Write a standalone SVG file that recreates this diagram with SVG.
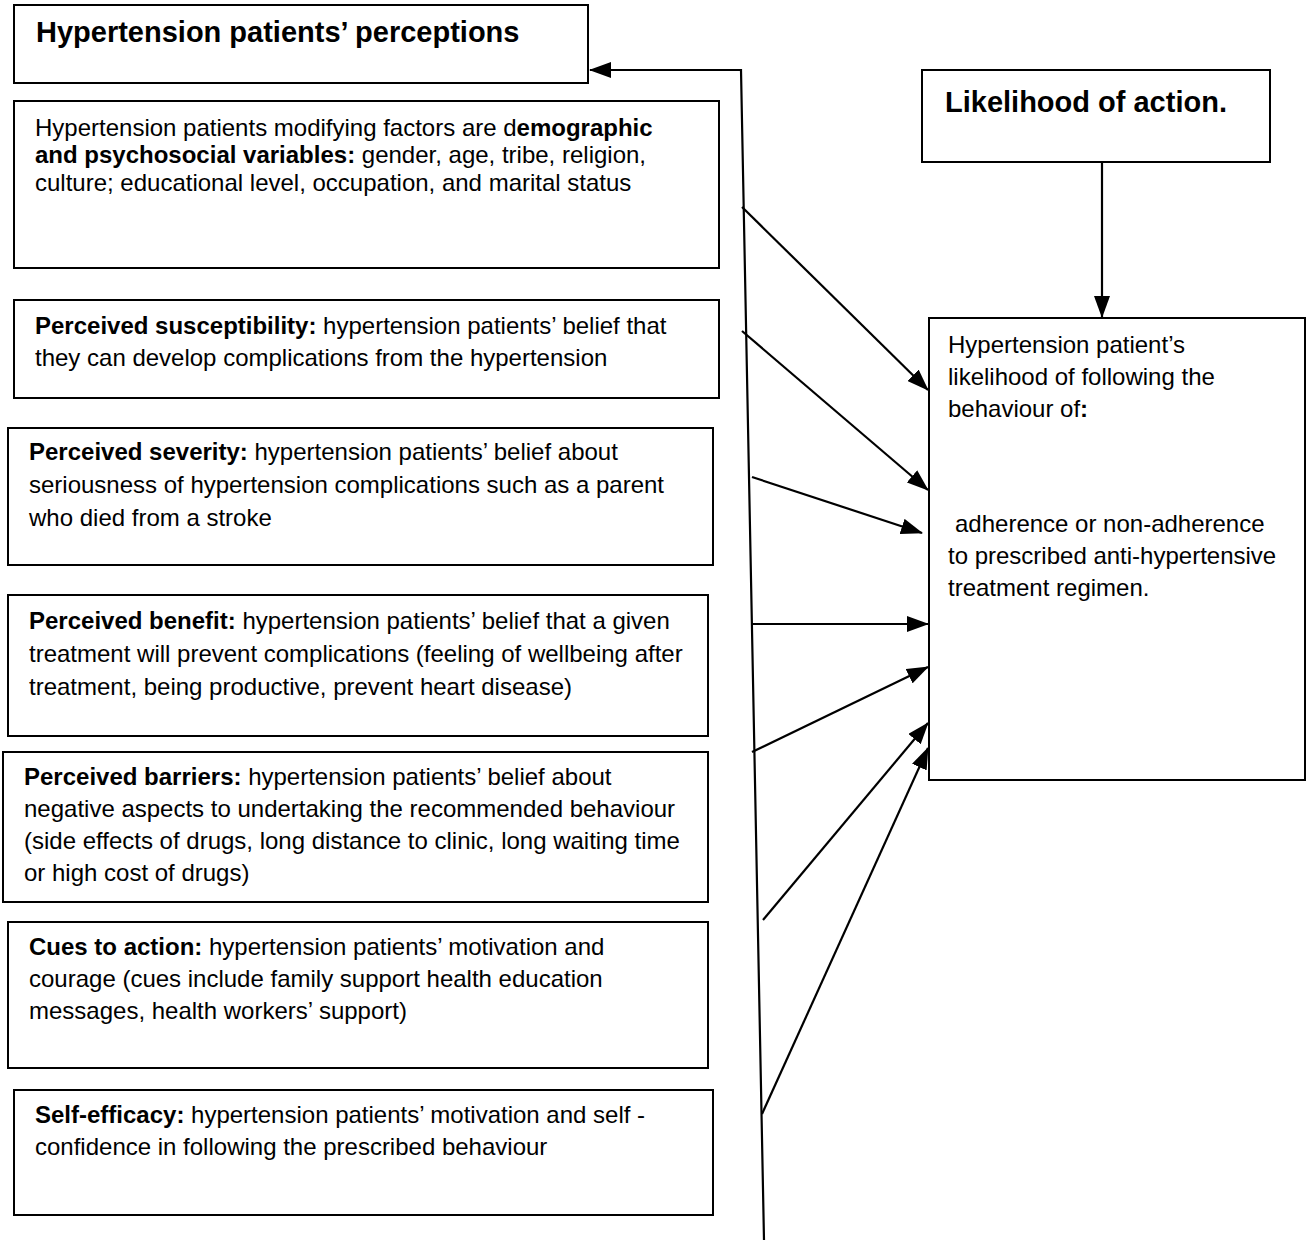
<svg xmlns="http://www.w3.org/2000/svg" width="1307" height="1243" viewBox="0 0 1307 1243">
<style>
.box{fill:#fff;stroke:#000;stroke-width:2}
.t{font-family:"Liberation Sans",Arial,sans-serif;font-size:24px;fill:#000}
.h{font-family:"Liberation Sans",Arial,sans-serif;font-size:29px;font-weight:bold;fill:#000}
.b{font-weight:bold}
.c{fill:none;stroke:#000;stroke-width:2.2}
</style>
<defs>
<marker id="ah" markerUnits="userSpaceOnUse" markerWidth="22" markerHeight="16" refX="21" refY="8" orient="auto">
<path d="M0,0 L22,8 L0,16 z" fill="#000"/>
</marker>
</defs>
<rect width="1307" height="1243" fill="#fff"/>

<g id="perceptions">
<rect class="box" x="14" y="5" width="574" height="78"/>
<text class="h" x="36" y="42">Hypertension patients’ perceptions</text>
</g>

<g id="modifying">
<rect class="box" x="14" y="101" width="705" height="167"/>
<text class="t" x="35" y="136">Hypertension patients modifying factors are d<tspan class="b">emographic</tspan></text>
<text class="t" x="35" y="163"><tspan class="b">and psychosocial variables:</tspan> gender, age, tribe, religion,</text>
<text class="t" x="35" y="191">culture; educational level, occupation, and marital status</text>
</g>

<g id="susceptibility">
<rect class="box" x="14" y="300" width="705" height="98"/>
<text class="t" x="35" y="334"><tspan class="b">Perceived susceptibility:</tspan> hypertension patients’ belief that</text>
<text class="t" x="35" y="366">they can develop complications from the hypertension</text>
</g>

<g id="severity">
<rect class="box" x="8" y="428" width="705" height="137"/>
<text class="t" x="29" y="460"><tspan class="b">Perceived severity:</tspan> hypertension patients’ belief about</text>
<text class="t" x="29" y="493">seriousness of hypertension complications such as a parent</text>
<text class="t" x="29" y="526">who died from a stroke</text>
</g>

<g id="benefit">
<rect class="box" x="8" y="595" width="700" height="141"/>
<text class="t" x="29" y="629"><tspan class="b">Perceived benefit:</tspan> hypertension patients’ belief that a given</text>
<text class="t" x="29" y="662">treatment will prevent complications (feeling of wellbeing after</text>
<text class="t" x="29" y="695">treatment, being productive, prevent heart disease)</text>
</g>

<g id="barriers">
<rect class="box" x="3" y="752" width="705" height="150"/>
<text class="t" x="24" y="785"><tspan class="b">Perceived barriers:</tspan> hypertension patients’ belief about</text>
<text class="t" x="24" y="817">negative aspects to undertaking the recommended behaviour</text>
<text class="t" x="24" y="849">(side effects of drugs, long distance to clinic, long waiting time</text>
<text class="t" x="24" y="881">or high cost of drugs)</text>
</g>

<g id="cues">
<rect class="box" x="8" y="922" width="700" height="146"/>
<text class="t" x="29" y="955"><tspan class="b">Cues to action:</tspan> hypertension patients’ motivation and</text>
<text class="t" x="29" y="987">courage (cues include family support health education</text>
<text class="t" x="29" y="1019">messages, health workers’ support)</text>
</g>

<g id="selfefficacy">
<rect class="box" x="14" y="1090" width="699" height="125"/>
<text class="t" x="35" y="1123"><tspan class="b">Self-efficacy:</tspan> hypertension patients’ motivation and self -</text>
<text class="t" x="35" y="1155">confidence in following the prescribed behaviour</text>
</g>

<g id="likelihood-action">
<rect class="box" x="922" y="70" width="348" height="92"/>
<text class="h" x="945" y="112">Likelihood of action.</text>
</g>

<g id="likelihood-behaviour">
<rect class="box" x="929" y="318" width="376" height="462"/>
<text class="t" x="948" y="353">Hypertension patient’s</text>
<text class="t" x="948" y="385">likelihood of following the</text>
<text class="t" x="948" y="417">behaviour of<tspan class="b">:</tspan></text>
<text class="t" x="955" y="532">adherence or non-adherence</text>
<text class="t" x="948" y="564">to prescribed anti-hypertensive</text>
<text class="t" x="948" y="596">treatment regimen.</text>
</g>

<g id="connectors">
<polyline class="c" points="764,1240 741,70 590,70" marker-end="url(#ah)"/>
<line class="c" x1="1102" y1="162" x2="1102" y2="317" marker-end="url(#ah)"/>
<line class="c" x1="742" y1="207" x2="928" y2="390" marker-end="url(#ah)"/>
<line class="c" x1="742" y1="331" x2="928" y2="490" marker-end="url(#ah)"/>
<line class="c" x1="752" y1="477" x2="922" y2="533" marker-end="url(#ah)"/>
<line class="c" x1="752" y1="624" x2="928" y2="624" marker-end="url(#ah)"/>
<line class="c" x1="752" y1="752" x2="928" y2="667" marker-end="url(#ah)"/>
<line class="c" x1="763" y1="920" x2="928" y2="723" marker-end="url(#ah)"/>
<line class="c" x1="762" y1="1114" x2="928" y2="748" marker-end="url(#ah)"/>
</g>
</svg>
